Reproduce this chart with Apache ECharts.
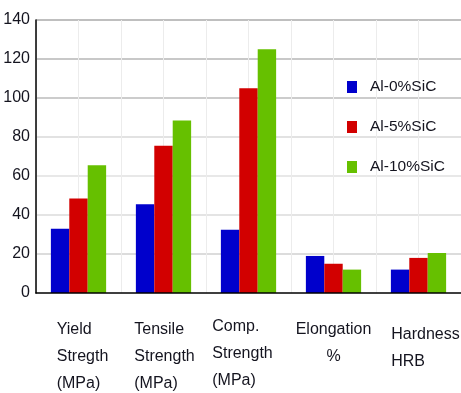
<!DOCTYPE html>
<html>
<head>
<meta charset="utf-8">
<style>
  html, body { margin: 0; padding: 0; background: #ffffff; }
  #chart { width: 461px; height: 393px; }
</style>
<script src="https://cdn.jsdelivr.net/npm/echarts@6/dist/echarts.min.js"></script>
</head>
<body>
<div id="chart"></div>
<script>
// Mechanical properties of Al / SiC composites
const categories = [
  'Yield\nStregth\n(MPa)',
  'Tensile\nStrength\n(MPa)',
  'Comp.\nStrength\n(MPa)',
  'Elongation\n%',
  'Hardness\nHRB'
];
const seriesNames = ['Al-0%SiC', 'Al-5%SiC', 'Al-10%SiC'];
const al0 = [33, 45.5, 32.5, 19, 12];
const al5 = [48.5, 75.5, 105, 15, 18];
const al10 = [65.5, 88.5, 125, 12, 20.5];
const yTicks = { min: 0, max: 140, step: 20 };

// label layout per category: line alignment, horizontal / vertical nudge
const labelLayout = [
  { align: 'left', dx: 4, dy: 3 },
  { align: 'left', dx: 1, dy: 3 },
  { align: 'left', dx: -6, dy: 0 },
  { align: 'center', dx: 0, dy: 3 },
  { align: 'left', dx: 7, dy: 8 }
];

const colors = ['#0000cc', '#d20000', '#66c000'];
const textFont = '"Liberation Sans", Arial, sans-serif';
const textColor = '#14141f';

const xData = categories.map((name, i) => {
  const l = labelLayout[i];
  return {
    value: name,
    textStyle: {
      padding: [l.dy, l.dx < 0 ? -2 * l.dx : 0, 0, l.dx > 0 ? 2 * l.dx : 0]
    }
  };
});

const chart = echarts.init(document.getElementById('chart'), null, { renderer: 'canvas' });

chart.setOption({
  backgroundColor: '#ffffff',
  animation: false,
  color: colors,
  grid: { left: 36, top: 20, right: 0, bottom: 100, containLabel: false, outerBoundsMode: 'none' },
  legend: {
    orient: 'vertical',
    left: 347,
    top: 79,
    padding: 0,
    itemWidth: 10,
    itemHeight: 12,
    itemGap: 24,
    icon: 'rect',
    textStyle: {
      fontFamily: textFont,
      fontSize: 15.5,
      color: textColor,
      padding: [0, 0, 0, 8]
    },
    data: seriesNames
  },
  xAxis: [{
    type: 'category',
    data: xData,
    z: 3,
    axisLine: { show: true, lineStyle: { color: '#000000', width: 1.5 } },
    axisTick: { show: false },
    splitLine: { show: false },
    axisLabel: {
      interval: 0,
      margin: 20,
      verticalAlign: 'top',
      color: textColor,
      fontFamily: textFont,
      fontSize: 16,
      lineHeight: 27,
      formatter: function (value, idx) {
        const key = labelLayout[idx].align === 'center' ? 'c' : 't';
        return value.split('\n').map(s => '{' + key + '|' + s + '}').join('\n');
      },
      rich: {
        t: { align: 'left', fontFamily: textFont, fontSize: 16, lineHeight: 27, color: textColor },
        c: { align: 'center', fontFamily: textFont, fontSize: 16, lineHeight: 27, color: textColor }
      }
    }
  }, {
    // faint vertical guide lines every half category
    type: 'value',
    min: 0,
    max: 10,
    interval: 1,
    position: 'top',
    axisLine: { show: false },
    axisTick: { show: false },
    axisLabel: { show: false },
    splitLine: { show: true, lineStyle: { color: '#ececec', width: 1 } }
  }],
  yAxis: {
    type: 'value',
    min: yTicks.min,
    max: yTicks.max,
    interval: yTicks.step,
    axisLine: { show: true, lineStyle: { color: '#000000', width: 1.5 } },
    axisTick: { show: false },
    splitLine: {
      show: true,
      lineStyle: {
        color: ['#ffffff', '#dcdcdc', '#e4e4e4', '#e8e8e8', '#e2e2e2', '#cccccc', '#c8c8c8', '#bfbfbf'],
        width: 2
      }
    },
    axisLabel: {
      margin: 6,
      color: textColor,
      fontFamily: textFont,
      fontSize: 16
    }
  },
  series: [al0, al5, al10].map((vals, i) => ({
    name: seriesNames[i],
    type: 'bar',
    xAxisIndex: 0,
    data: vals,
    barGap: '0%',
    barCategoryGap: '35%',
    itemStyle: { color: colors[i] }
  }))
});
</script>
</body>
</html>
